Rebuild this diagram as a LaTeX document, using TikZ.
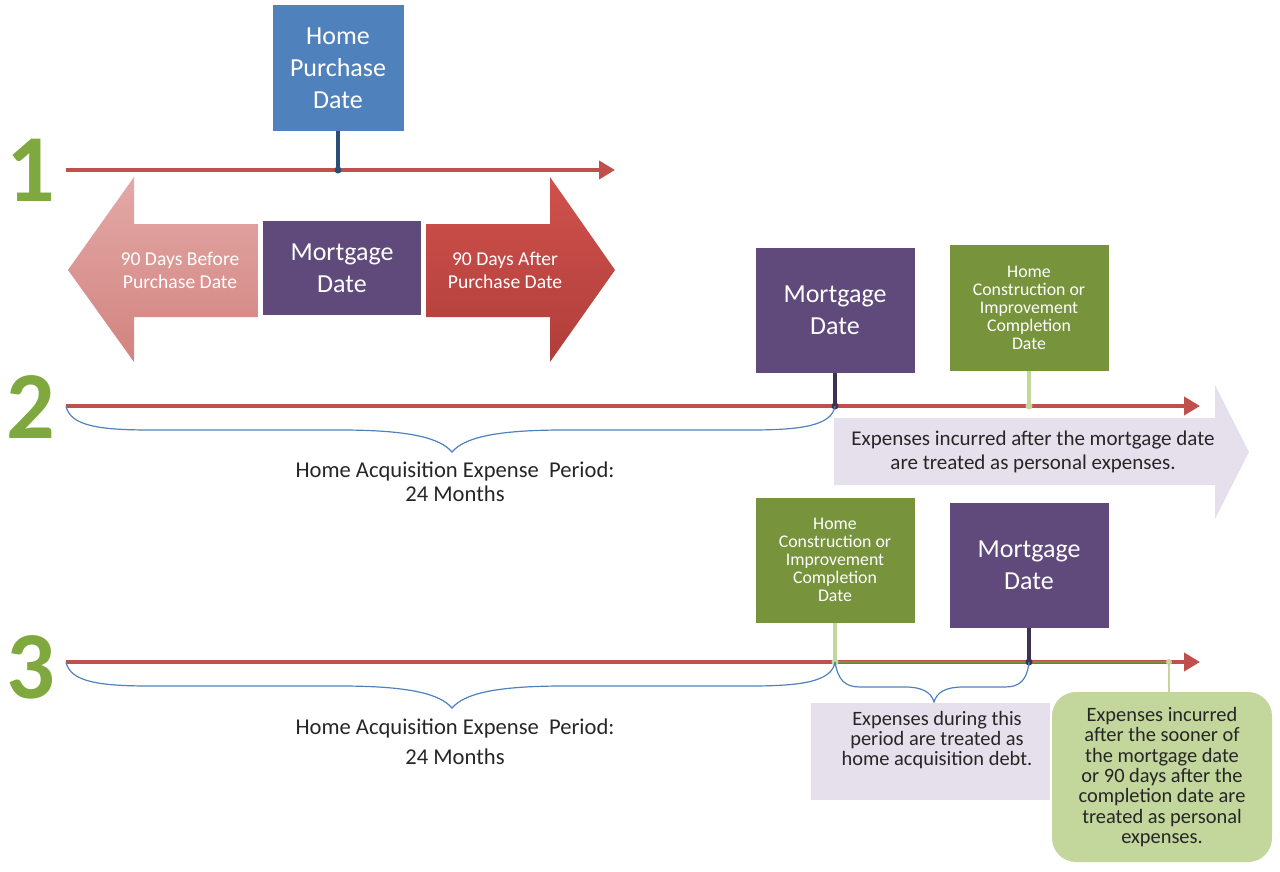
\documentclass[tikz,border=0pt]{standalone}
\usepackage{fontspec}
\setmainfont{Carlito}
\usepackage{tikz}
\usetikzlibrary{arrows.meta}
\definecolor{officeBlue}{HTML}{4F81BD}
\definecolor{stemBlue}{HTML}{2C4D75}
\definecolor{officePurple}{HTML}{604A7B}
\definecolor{stemPurple}{HTML}{3F3151}
\definecolor{oliveGreen}{HTML}{77933C}
\definecolor{paleGreen}{HTML}{C3D69B}
\definecolor{numGreen}{HTML}{7FA83E}
\definecolor{lineRed}{HTML}{C0504D}
\definecolor{pinkTop}{HTML}{E3A9A7}
\definecolor{pinkBottom}{HTML}{D2837F}
\definecolor{redTop}{HTML}{D0514D}
\definecolor{redBottom}{HTML}{B03E3A}
\definecolor{lavender}{HTML}{E5E0EC}
\definecolor{textDark}{HTML}{262626}

\begin{document}
\begin{tikzpicture}[x=0.5pt, y=-0.5pt, every node/.style={inner sep=0pt, align=center},
	timeline/.style={line width=2.4pt, draw=lineRed, -{Triangle[length=8pt, width=9pt]}},
	stem/.style={line width=1.8pt},
	brace/.style={draw=officeBlue, line width=0.6pt},
	datebox/.style={rectangle, text=white, minimum width=79.5pt, minimum height=62.5pt},
	bigtext/.style={font=\fontsize{13}{16}\selectfont},
	smalltext/.style={font=\fontsize{8.9}{9}\selectfont},
	notetext/.style={text=textDark, font=\fontsize{10.2}{10.2}\selectfont},
	rownum/.style={text=numGreen, font=\fontsize{48}{48}\selectfont\bfseries}]
	\useasboundingbox (0,0) rectangle (1280,872);
	\coordinate (hp) at (338,170);
	\coordinate (m2) at (835,406);
	\coordinate (c2) at (1029,406);
	\coordinate (c3) at (835,662);
	\coordinate (m3) at (1029,662);
	\coordinate (t3) at (1169,662);

	% row 1
	\node[rownum] (one) at (31,170) {1};
	\draw[timeline] (66,170) -- (615,170);
	\node[datebox, bigtext, fill=officeBlue, minimum width=65.5pt, minimum height=63pt] (purchase) at (338,68) {Home\\Purchase\\Date};
	\draw[stem, stemBlue] (purchase.south) -- (hp);
	\fill[stemBlue] (hp) circle (3.5);
	\shade[top color=pinkTop, bottom color=pinkBottom] (68,270) -- (134,177) -- (134,224) -- (258,224) -- (258,317) -- (134,317) -- (134,362) -- cycle;
	\shade[top color=redTop, bottom color=redBottom] (615,270) -- (550,177) -- (550,224) -- (426,224) -- (426,317) -- (550,317) -- (550,362) -- cycle;
	\node[text=white, font=\fontsize{9.8}{11.5}\selectfont] (before) at (180,270) {90 Days Before\\Purchase Date};
	\node[text=white, font=\fontsize{9.8}{11.5}\selectfont] (after) at (505,270) {90 Days After\\Purchase Date};
	\node[datebox, bigtext, fill=officePurple, minimum width=79pt, minimum height=47pt] (mort1) at (342,268) {Mortgage\\Date};

	% row 2
	\node[rownum] (two) at (31,407) {2};
	\fill[lavender] (834,418) -- (1215,418) -- (1215,385) -- (1249,452) -- (1215,519) -- (1215,485) -- (834,485) -- cycle;
	\node[text=textDark, font=\fontsize{10.5}{12}\selectfont] (personal2) at (1033,452) {Expenses incurred after the mortgage date\\are treated as personal expenses.};
	\draw[timeline] (66,406) -- (1200,406);
	\node[datebox, bigtext, fill=officePurple] (mort2) at (835,310) {Mortgage\\Date};
	\node[datebox, smalltext, fill=oliveGreen, minimum height=63pt] (comp2) at (1029,308) {Home\\Construction or\\Improvement\\Completion\\Date};
	\draw[stem, stemPurple] (mort2.south) -- (m2);
	\fill[stemPurple] (m2) circle (3.5);
	\draw[stem, paleGreen] (comp2.south) -- (c2);
	\fill[paleGreen] (c2) circle (3.5);
	\draw[brace] (66,406) .. controls (70,426) and (100,430) .. (150,430) -- (340,430) .. controls (410,430) and (440,438) .. (452,452) .. controls (464,438) and (494,430) .. (564,430) -- (750,430) .. controls (800,430) and (832,426) .. (m2);
	\node[text=textDark, font=\fontsize{11.3}{12}\selectfont] (period2) at (455,482) {Home Acquisition Expense\ \ Period:\\24 Months};

	% row 3
	\node[rownum] (three) at (31,667) {3};
	\draw[timeline] (66,662) -- (1200,662);
	\draw[line width=1.2pt, oliveGreen] (c3) -- (t3);
	\node[datebox, smalltext, fill=oliveGreen] (comp3) at (835,560) {Home\\Construction or\\Improvement\\Completion\\Date};
	\node[datebox, bigtext, fill=officePurple] (mort3) at (1029,565) {Mortgage\\Date};
	\draw[stem, paleGreen] (comp3.south) -- (c3);
	\fill[paleGreen] (c3) circle (3.5);
	\draw[stem, stemPurple] (mort3.south) -- (m3);
	\fill[stemPurple] (m3) circle (3.5);
	\draw[brace] (66,662) .. controls (70,682) and (100,686) .. (150,686) -- (340,686) .. controls (410,686) and (440,694) .. (452,708) .. controls (464,694) and (494,686) .. (564,686) -- (750,686) .. controls (800,686) and (832,682) .. (c3);
	\node[text=textDark, font=\fontsize{11.3}{15}\selectfont] (period3) at (455,742) {Home Acquisition Expense\ \ Period:\\24 Months};
	\draw[brace] (c3) .. controls (838,680) and (845,687) .. (860,687) -- (905,687) .. controls (922,687) and (931,692) .. (934,702) .. controls (937,692) and (946,687) .. (963,687) -- (1005,687) .. controls (1020,687) and (1027,680) .. (m3);
	\fill[lavender] (811,703) rectangle (1050,800);
	\node[notetext] (during) at (937,740) {Expenses during this\\period are treated as\\home acquisition debt.};
	\node[notetext, fill=paleGreen, rounded corners=12pt, minimum width=110pt, minimum height=85pt] (note) at (1162,777) {Expenses incurred\\after the sooner of\\the mortgage date\\or 90 days after the\\completion date are\\treated as personal\\expenses.};
	\draw[line width=0.6pt, paleGreen] (t3) -- (t3|-note.north);
	\fill[paleGreen] (t3) circle (3);
\end{tikzpicture}
\end{document}
